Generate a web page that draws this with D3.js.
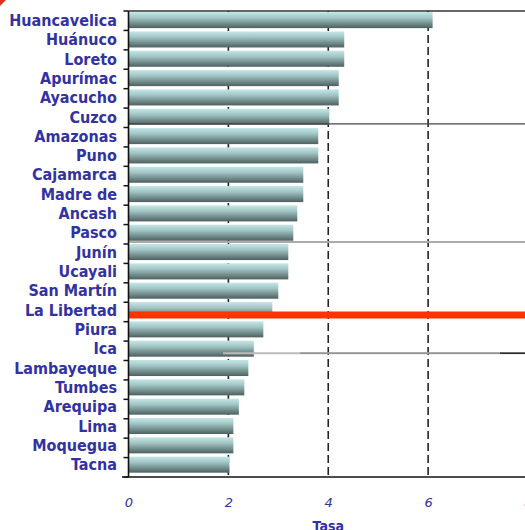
<!DOCTYPE html>
<html>
<head>
<meta charset="utf-8">
<script src="https://cdn.jsdelivr.net/npm/d3@7"></script>
<style>
  html, body { margin: 0; padding: 0; background: #fff; overflow: hidden; }
  svg { display: block; }
</style>
</head>
<body>
<svg id="chart" width="525" height="530"></svg>
<script>
// Regiones ordenadas por tasa
const regions = ["Huancavelica", "Huánuco", "Loreto", "Apurímac", "Ayacucho", "Cuzco",
  "Amazonas", "Puno", "Cajamarca", "Madre de", "Ancash", "Pasco", "Junín", "Ucayali",
  "San Martín", "La Libertad", "Piura", "Ica", "Lambayeque", "Tumbes", "Arequipa",
  "Lima", "Moquegua", "Tacna"];
const rates = [6.09, 4.32, 4.32, 4.21, 4.21, 4.02, 3.80, 3.80, 3.50, 3.50, 3.38, 3.30,
  3.20, 3.20, 3.00, 2.88, 2.70, 2.51, 2.40, 2.32, 2.21, 2.10, 2.10, 2.02];
const xTicks = [0, 2, 4, 6, 8];
const xTitle = "Tasa";
// Regiones bajo las que se traza una línea de referencia
const highlightRegion = "La Libertad";

const svg = d3.select("#chart");
const plotLeft = 128.5, plotRight = 528, plotTop = 11, plotBottom = 477;
const navy = "#3232a0";
const labelFont = "'DejaVu Sans Condensed', 'DejaVu Sans', sans-serif";

const x = d3.scaleLinear().domain([0, 8]).range([plotLeft, plotRight]);
const y = d3.scaleBand().domain(regions).range([plotTop, plotBottom])
  .paddingInner(0.17).paddingOuter(0.14).align(0.2);

// Degradado vertical de las barras
const defs = svg.append("defs");
const grad = defs.append("linearGradient").attr("id", "barGrad")
  .attr("x1", 0).attr("y1", 0).attr("x2", 0).attr("y2", 1);
grad.append("stop").attr("offset", "0%").attr("stop-color", "#c4e6e6");
grad.append("stop").attr("offset", "35%").attr("stop-color", "#a2c6c6");
grad.append("stop").attr("offset", "100%").attr("stop-color", "#4d6060");

// Líneas de cuadrícula discontinuas
svg.append("g").selectAll("line").data(xTicks.filter(d => d > 0)).join("line")
  .attr("x1", d => x(d)).attr("x2", d => x(d))
  .attr("y1", plotTop).attr("y2", plotBottom)
  .attr("stroke", "#222").attr("stroke-width", 1.6)
  .attr("stroke-dasharray", "8,4");

const barBottom = name => y(name) + y.bandwidth();

// Línea de separación detrás de las barras
const pascoY = barBottom("Pasco") + 1.3;
svg.append("line")
  .attr("x1", plotLeft).attr("x2", 525).attr("y1", pascoY).attr("y2", pascoY)
  .attr("stroke", "#aaa").attr("stroke-width", 2);

// Barras
svg.append("g").selectAll("rect").data(regions).join("rect")
  .attr("x", x(0))
  .attr("y", d => y(d))
  .attr("width", (d, i) => x(rates[i]) - x(0))
  .attr("height", y.bandwidth())
  .attr("fill", "url(#barGrad)");

// Líneas de separación sobre las barras
const cuzcoY = barBottom("Cuzco") - 0.8;
svg.append("line")
  .attr("x1", plotLeft).attr("x2", 525).attr("y1", cuzcoY).attr("y2", cuzcoY)
  .attr("stroke", "#444").attr("stroke-width", 1.3);
const icaY = barBottom("Ica") - 3.5;
svg.append("line")
  .attr("x1", 223).attr("x2", 525).attr("y1", icaY).attr("y2", icaY)
  .attr("stroke", "#bbb").attr("stroke-width", 2);
svg.append("line")
  .attr("x1", 300).attr("x2", 525).attr("y1", icaY).attr("y2", icaY)
  .attr("stroke", "#888").attr("stroke-width", 1.2);
svg.append("line")
  .attr("x1", 500).attr("x2", 525).attr("y1", icaY).attr("y2", icaY)
  .attr("stroke", "#111").attr("stroke-width", 1.2);

// Línea destacada
const hlY = barBottom(highlightRegion) - 3;
svg.append("line")
  .attr("x1", plotLeft).attr("x2", 525).attr("y1", hlY).attr("y2", hlY)
  .attr("stroke", "#ff3300").attr("stroke-width", 7);

// Borde superior
svg.append("line")
  .attr("x1", plotLeft).attr("x2", 525).attr("y1", plotTop).attr("y2", plotTop)
  .attr("stroke", "#333").attr("stroke-width", 1.3);

// Eje vertical con marcas entre categorías
const yAxisG = svg.append("g");
yAxisG.append("line")
  .attr("x1", plotLeft).attr("x2", plotLeft).attr("y1", plotTop).attr("y2", plotBottom)
  .attr("stroke", "#111").attr("stroke-width", 1.6);
const boundaries = d3.range(regions.length + 1)
  .map(i => plotTop + i * (plotBottom - plotTop) / regions.length);
yAxisG.selectAll("line.tick").data(boundaries).join("line").attr("class", "tick")
  .attr("x1", plotLeft - 5).attr("x2", plotLeft).attr("y1", d => d).attr("y2", d => d)
  .attr("stroke", "#111").attr("stroke-width", 1.5);

// Etiquetas de las regiones
svg.append("g").selectAll("text").data(regions).join("text")
  .attr("x", 117)
  .attr("y", d => y(d) + y.bandwidth() / 2)
  .attr("dy", "0.36em")
  .attr("text-anchor", "end")
  .attr("font-family", labelFont)
  .attr("font-stretch", "condensed")
  .attr("font-weight", "bold")
  .attr("font-size", 16)
  .attr("fill", navy)
  .text(d => d);

// Eje horizontal
const xAxis = d3.axisBottom(x).tickValues(xTicks).tickSize(0).tickPadding(21)
  .tickFormat(d3.format("d"));
const xg = svg.append("g").attr("transform", `translate(0,${plotBottom})`).call(xAxis);
xg.select(".domain").remove();
xg.append("line").attr("x1", 122).attr("x2", 525).attr("y1", 0).attr("y2", 0)
  .attr("stroke", "#111").attr("stroke-width", 1.6);
xg.selectAll(".tick text")
  .attr("font-family", "DejaVu Sans, sans-serif")
  .attr("font-style", "italic")
  .attr("font-size", 13)
  .attr("fill", navy);

svg.append("text")
  .attr("x", x(4)).attr("y", 531)
  .attr("text-anchor", "middle")
  .attr("font-family", labelFont)
  .attr("font-weight", "bold")
  .attr("font-size", 14)
  .attr("fill", navy)
  .text(xTitle);

// Marca roja en la esquina
svg.append("path").attr("d", "M0,0 L6,0 L0,6 Z").attr("fill", "#e03020");
</script>
</body>
</html>
